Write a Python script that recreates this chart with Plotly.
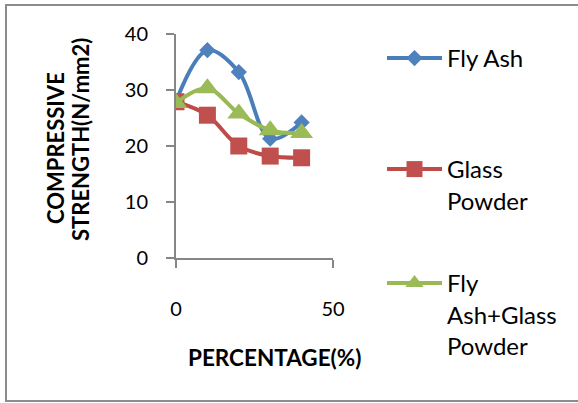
import plotly.graph_objects as go

# Replacement level (%) and compressive strength (N/mm2) for each mix
percentage = [0, 10, 20, 30, 40]
fly_ash = [28.0, 37.1, 33.2, 21.3, 24.2]
glass_powder = [27.9, 25.5, 20.0, 18.2, 17.9]
fly_ash_glass = [27.7, 30.3, 25.8, 22.8, 22.3]

series_names = ["Fly Ash", "Glass<br>Powder", "Fly<br>Ash+Glass<br>Powder"]

W, H = 578, 403
L, R, T, B = 176, 245, 34, 145
plot_w = W - L - R
plot_h = H - T - B

FONT = "Lato, 'Open Sans', sans-serif"


def px_x(x):
    return (x - L) / plot_w


def px_y(y):
    return (H - B - y) / plot_h


fig = go.Figure()

styles = [
    (fly_ash, "#4A7EBB", "#4F81BD", "diamond", 12.5, "legend"),
    (glass_powder, "#BE4B48", "#C0504D", "square", 17, "legend2"),
    (fly_ash_glass, "#98B954", "#9BBB59", "triangle-up", 20, "legend3"),
]

for name, (vals, lc, mc, sym, size, lg) in zip(series_names, styles):
    fig.add_trace(go.Scatter(
        x=percentage, y=vals, name=name, mode="lines+markers",
        line=dict(color=lc, width=4, shape="spline", smoothing=1),
        marker=dict(color=mc, symbol=sym, size=size, line=dict(width=0)),
        legend=lg, showlegend=True,
    ))

legend_common = dict(
    font=dict(family=FONT, size=24, color="#000000"),
    bgcolor="rgba(0,0,0,0)", borderwidth=0,
    xanchor="left", yanchor="top", valign="top",
    itemwidth=55,
)

title_font = dict(family=FONT, size=22.5)

fig.update_layout(
    width=W, height=H,
    margin=dict(l=L, r=R, t=T, b=B),
    paper_bgcolor="#FFFFFF", plot_bgcolor="#FFFFFF",
    font=dict(family=FONT, size=19, color="#000000"),
    showlegend=True,
    legend=dict(x=px_x(382), y=px_y(36), **legend_common),
    legend2=dict(x=px_x(382), y=px_y(147), **legend_common),
    legend3=dict(x=px_x(382), y=px_y(261), **legend_common),
    xaxis=dict(
        range=[0, 50], tickvals=[0, 50], showgrid=False, zeroline=False,
        showline=True, linecolor="#868686", linewidth=2,
        ticks="outside", ticklen=8, tickwidth=2, tickcolor="#868686",
        ticklabelstandoff=24,
        tickfont=dict(family=FONT, size=20),
    ),
    yaxis=dict(
        range=[0, 40], tickvals=[0, 10, 20, 30, 40], showgrid=False,
        zeroline=False, showline=True, linecolor="#868686", linewidth=2,
        ticks="outside", ticklen=8, tickwidth=2, tickcolor="#868686",
        ticklabelstandoff=14,
        tickfont=dict(family=FONT, size=20),
    ),
    annotations=[
        dict(text="<b>PERCENTAGE(%)</b>", xref="paper", yref="paper",
             x=px_x(274), y=px_y(357), showarrow=False,
             font=title_font, xanchor="center", yanchor="middle"),
        dict(text="<b>COMPRESSIVE</b>", xref="paper", yref="paper",
             x=px_x(55), y=px_y(148), showarrow=False, textangle=-90,
             font=dict(family=FONT, size=22), xanchor="center", yanchor="middle"),
        dict(text="<b>STRENGTH(N/mm2)</b>", xref="paper", yref="paper",
             x=px_x(80), y=px_y(140), showarrow=False, textangle=-90,
             font=dict(family=FONT, size=22), xanchor="center", yanchor="middle"),
    ],
    shapes=[
        dict(type="rect", xref="paper", yref="paper",
             x0=px_x(6), x1=px_x(586), y0=px_y(401), y1=px_y(5),
             line=dict(color="#8C8C8C", width=2), fillcolor="rgba(0,0,0,0)",
             layer="below"),
    ],
)

fig.write_html("out.html")
